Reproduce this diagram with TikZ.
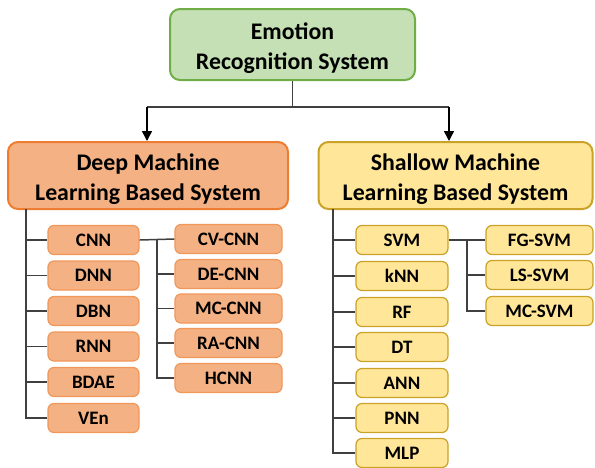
\documentclass[tikz,border=0pt]{standalone}
\usepackage{fontspec}
\setmainfont{Carlito}
\usetikzlibrary{arrows.meta}
\definecolor{gfill}{HTML}{C5E0B4}
\definecolor{gdraw}{HTML}{70AD47}
\definecolor{ofill}{HTML}{F4B183}
\definecolor{odraw}{HTML}{ED7D31}
\definecolor{yfill}{HTML}{FFE699}
\definecolor{ydraw}{HTML}{C9A227}
\definecolor{lnk}{HTML}{404040}
\newcommand{\hdtext}[2]{\raisebox{-3.5pt}[\height][\depth]{\begin{tabular}{@{}c@{}}#1\\#2\end{tabular}}}
\tikzset{
  head/.style={draw, line width=2pt, rounded corners=10pt, font=\fontsize{23.8}{30}\selectfont\bfseries, inner sep=0pt},
  kid/.style={draw, line width=1.2pt, rounded corners=6pt, align=center, font=\fontsize{19}{22}\selectfont\bfseries, inner sep=0pt, minimum height=29pt},
  deepk/.style={kid, fill=ofill, draw=odraw!80},
  shalk/.style={kid, fill=yfill, draw=ydraw},
  lnk/.style={draw=lnk, line width=1.5pt},
  arr/.style={draw=black, line width=1.5pt, -{Triangle[length=10pt,width=10pt]}},
}
\begin{document}
\begin{tikzpicture}[x=1pt,y=-1pt]
\useasboundingbox (0,0) rectangle (595,467);
% headers
\node[head, fill=gfill, draw=gdraw, minimum width=245pt, minimum height=71pt] (top) at (292.5,44.5) {\hdtext{Emotion}{Recognition System}};
\node[head, fill=ofill, draw=odraw, minimum width=280pt, minimum height=67pt] (deep) at (148,175.5) {\hdtext{Deep Machine}{Learning Based System}};
\node[head, fill=yfill, draw=ydraw, minimum width=274pt, minimum height=67pt] (shal) at (455.5,175.5) {\hdtext{Shallow Machine}{Learning Based System}};
% deep children
\node[deepk, minimum width=91pt] (cnn) at (93.5,240) {CNN};
\node[deepk, minimum width=91pt] (dnn) at (93.5,275.5) {DNN};
\node[deepk, minimum width=91pt] (dbn) at (93.5,311) {DBN};
\node[deepk, minimum width=91pt] (rnn) at (93.5,346.5) {RNN};
\node[deepk, minimum width=91pt] (bdae) at (93.5,382) {BDAE};
\node[deepk, minimum width=91pt] (ven) at (93.5,418) {VEn};
% cnn subs
\node[deepk, minimum width=107pt] (cvcnn) at (228.5,239) {CV-CNN};
\node[deepk, minimum width=107pt] (decnn) at (228.5,274) {DE-CNN};
\node[deepk, minimum width=107pt] (mccnn) at (228.5,308.5) {MC-CNN};
\node[deepk, minimum width=107pt] (racnn) at (228.5,343) {RA-CNN};
\node[deepk, minimum width=107pt] (hcnn) at (228.5,378) {HCNN};
% shallow children
\node[shalk, minimum width=92pt] (svm) at (402,240) {SVM};
\node[shalk, minimum width=92pt] (knn) at (402,276) {kNN};
\node[shalk, minimum width=92pt] (rf) at (402,312) {RF};
\node[shalk, minimum width=92pt] (dt) at (402,347) {DT};
\node[shalk, minimum width=92pt] (ann) at (402,383) {ANN};
\node[shalk, minimum width=92pt] (pnn) at (402,418) {PNN};
\node[shalk, minimum width=92pt] (mlp) at (402,453) {MLP};
% svm subs
\node[shalk, minimum width=107pt] (fgsvm) at (539.5,240) {FG-SVM};
\node[shalk, minimum width=107pt] (lssvm) at (539.5,275) {LS-SVM};
\node[shalk, minimum width=107pt] (mcsvm) at (539.5,311) {MC-SVM};
% top connectors
\coordinate (j) at (292.5,107);
\coordinate (jl) at (147,107);
\coordinate (jr) at (449,107);
\draw[lnk] (top.south) -- (j);
\draw[lnk] (jl) -- (jr);
\draw[arr] (jl) -- (jl |- deep.north);
\draw[arr] (jr) -- (jr |- shal.north);
% deep trunk
\coordinate (dtr) at (26,209);
\draw[lnk] (dtr) |- (ven.west);
\foreach \n in {cnn,dnn,dbn,rnn,bdae} \draw[lnk] (dtr |- \n.west) -- (\n.west);
% cnn trunk
\coordinate (ctr) at (157,240);
\draw[lnk] (cnn.east) -- (cvcnn.west);
\draw[lnk] (ctr) |- (hcnn.west);
\foreach \n in {decnn,mccnn,racnn} \draw[lnk] (ctr |- \n.west) -- (\n.west);
% shallow trunk
\coordinate (str) at (333,209);
\draw[lnk] (str) |- (mlp.west);
\foreach \n in {svm,knn,rf,dt,ann,pnn} \draw[lnk] (str |- \n.west) -- (\n.west);
% svm trunk
\coordinate (sstr) at (467,240);
\draw[lnk] (svm.east) -- (fgsvm.west);
\draw[lnk] (sstr) |- (mcsvm.west);
\draw[lnk] (sstr |- lssvm.west) -- (lssvm.west);
\end{tikzpicture}
\end{document}
